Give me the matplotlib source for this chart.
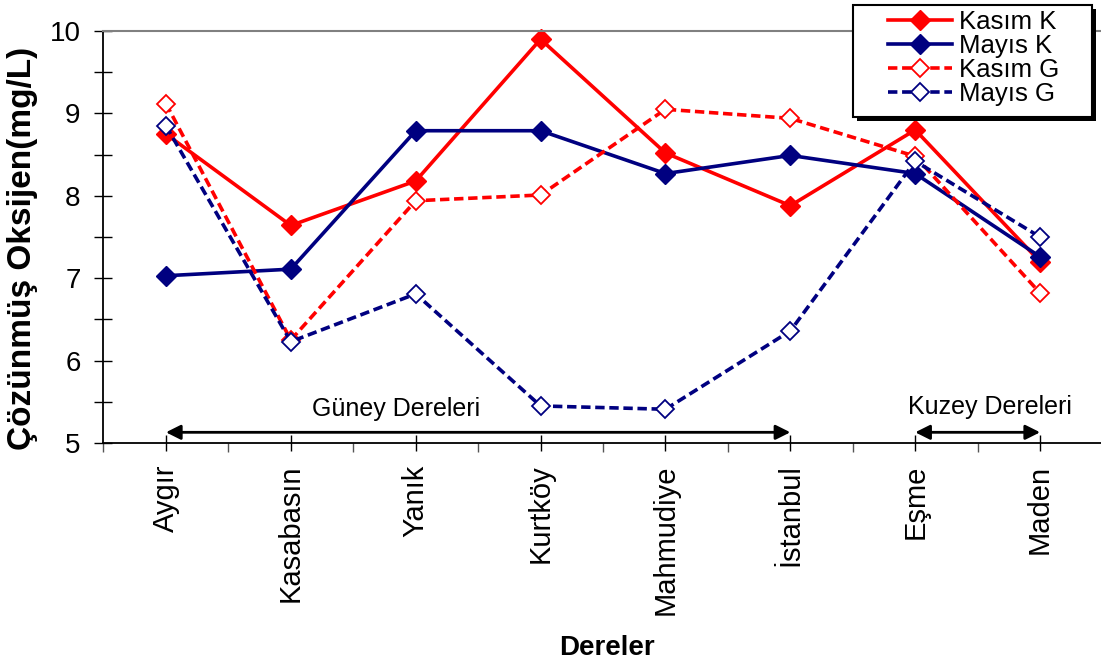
import matplotlib.pyplot as plt
from matplotlib.patches import Rectangle

plt.rcParams['font.family'] = ['Liberation Sans', 'DejaVu Sans']

# istasyonlar ve ölçülen çözünmüş oksijen değerleri (mg/L)
dereler = ['Aygır', 'Kasabasın', 'Yanık', 'Kurtköy', 'Mahmudiye', 'İstanbul', 'Eşme', 'Maden']
kasim_k = [8.75, 7.64, 8.18, 9.90, 8.52, 7.88, 8.80, 7.20]
mayis_k = [7.03, 7.11, 8.79, 8.79, 8.27, 8.49, 8.27, 7.26]
kasim_g = [9.12, 6.25, 7.94, 8.01, 9.05, 8.94, 8.48, 6.82]
mayis_g = [8.85, 6.23, 6.81, 5.45, 5.41, 6.36, 8.42, 7.50]

RED = '#ff0000'
NAVY = '#000080'
W, H = 1101, 664

fig = plt.figure(figsize=(W / 100, H / 100), dpi=100)
ax = fig.add_axes([0.094, 0.3328, 0.9074, 0.6205])

x = list(range(len(dereler)))
dash = (2.6, 1.3)
ax.plot(x, kasim_k, '-', color=RED, lw=2.6, marker='D', ms=10, mfc=RED, mec=RED,
        label='Kasım K', clip_on=False)
ax.plot(x, mayis_k, '-', color=NAVY, lw=2.6, marker='D', ms=10, mfc=NAVY, mec=NAVY,
        label='Mayıs K', clip_on=False)
ax.plot(x, kasim_g, color=RED, lw=2.6, dashes=dash, marker='D', ms=9, mfc='white',
        mec=RED, mew=1.3, label='Kasım G', clip_on=False)
ax.plot(x, mayis_g, color=NAVY, lw=2.6, dashes=dash, marker='D', ms=9, mfc='white',
        mec=NAVY, mew=1.3, label='Mayıs G', clip_on=False)

ax.set_xlim(-0.5, len(dereler) - 0.5)
ax.set_ylim(5, 10)

ax.set_xticks(x)
ax.set_xticklabels(dereler, rotation=90, fontsize=21)
ax.set_xticks([i - 0.5 for i in range(len(dereler) + 1)], minor=True)
ax.tick_params(axis='x', which='major', direction='inout', length=11, width=1, pad=10)
ax.tick_params(axis='x', which='minor', direction='out', length=6.5, width=1, color='#555555')

ax.set_yticks([5, 6, 7, 8, 9, 10])
ax.set_yticks([5.5, 6.5, 7.5, 8.5, 9.5], minor=True)
ax.tick_params(axis='y', which='both', direction='inout', length=13, width=1,
               labelsize=20, pad=10)

ax.spines['right'].set_visible(False)
ax.spines['top'].set_color('#808080')
ax.spines['top'].set_linewidth(1.5)
ax.spines['left'].set_linewidth(1.3)
ax.spines['bottom'].set_linewidth(1.3)

# bölge okları
ax.annotate('', xy=(0, 5.13), xytext=(5, 5.13),
            arrowprops=dict(arrowstyle='<|-|>', color='black', lw=2, mutation_scale=22,
                            shrinkA=0, shrinkB=0))
ax.annotate('', xy=(6, 5.13), xytext=(7, 5.13),
            arrowprops=dict(arrowstyle='<|-|>', color='black', lw=2, mutation_scale=22,
                            shrinkA=0, shrinkB=0))
ax.text(1.84, 5.41, 'Güney Dereleri', fontsize=18, ha='center', va='center')
ax.text(6.6, 5.44, 'Kuzey Dereleri', fontsize=18, ha='center', va='center')

fig.text(0.0204, 0.6258, 'Çözünmüş Oksijen(mg/L)', rotation=90, fontsize=24,
         fontweight='bold', ha='center', va='center')
fig.text(0.551, 0.024, 'Dereler', fontsize=20, fontweight='bold', ha='center', va='center')

# lejant kutusu (gölgeli) elle çiziliyor
shadow = Rectangle(((853 + 4) / W, 1 - (117 + 4) / H), 239 / W, 112 / H,
                   transform=fig.transFigure, fc='black', ec='none', zorder=10)
box = Rectangle((853 / W, 1 - 117 / H), 239 / W, 112 / H,
                transform=fig.transFigure, fc='white', ec='black', lw=1.5, zorder=11)
fig.add_artist(shadow)
fig.add_artist(box)

handles, labels = ax.get_legend_handles_labels()
leg = fig.legend(handles, labels, loc='upper left', bbox_to_anchor=(888 / W, 1 - 10 / H),
                 fontsize=18.5, frameon=False, borderpad=0, labelspacing=0.0,
                 handlelength=2.5, handletextpad=0.25, borderaxespad=0)
leg.set_zorder(12)

fig.savefig('out.png', dpi=100)
